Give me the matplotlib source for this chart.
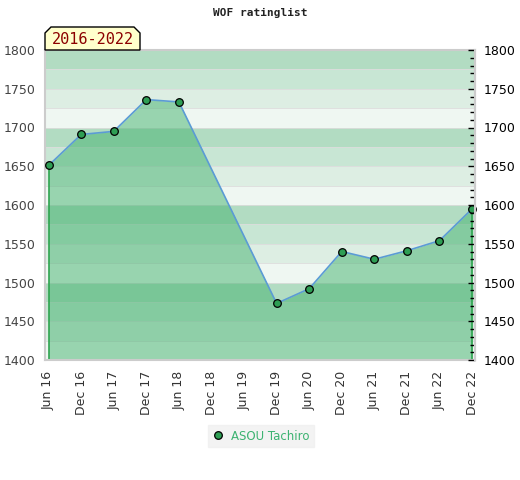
import numpy as np
import matplotlib
matplotlib.use('Agg')
import matplotlib.pyplot as plt
from matplotlib.patches import Polygon
from matplotlib.lines import Line2D

# data (None = no rating that period)
periods = ['Jun 16', 'Dec 16', 'Jun 17', 'Dec 17', 'Jun 18', 'Dec 18', 'Jun 19',
           'Dec 19', 'Jun 20', 'Dec 20', 'Jun 21', 'Dec 21', 'Jun 22', 'Dec 22']
ratings = [1651, 1691, 1695, 1736, 1733, None, None,
           1473, 1492, 1540, 1530, 1541, 1554, 1595]
player = 'ASOU Tachiro'
title = 'WOF ratinglist'
span_label = '2016-2022'
ymin, ymax = 1400, 1800

W, H = 520, 480
fig = plt.figure(figsize=(W / 100, H / 100), dpi=100)
ax = fig.add_axes([45 / W, 1 - 360 / H, 430 / W, 310 / H])

# striped background, 4 shades per 100 points
band_cols = ['#b2dcc2', '#c8e6d4', '#ddeee3', '#eff7f2']
edges = np.arange(ymax, ymin, -25)
for i, top in enumerate(edges):
    ax.axhspan(top - 25, top, color=band_cols[i % 4], lw=0, zorder=0)
    if i > 0:
        ax.axhline(top, color='#dcdcdc', lw=0.6, zorder=0.5)

idx = [i for i, r in enumerate(ratings) if r is not None]
vals = [ratings[i] for i in idx]

ax.fill_between(idx, vals, ymin, color='#42b26e', alpha=0.5, lw=0, zorder=1)
ax.vlines([idx[0], idx[-1]], ymin, [vals[0], vals[-1]], color='#2ea44f', lw=1.2, zorder=2)
ax.plot(idx, vals, color='#5b9bd5', lw=1.2, zorder=3)
ax.plot(idx, vals, 'o', ms=5.5, mfc='#2e9e54', mec='black', mew=0.9, zorder=4, clip_on=False)

ax.set_xlim(-0.11, 13.09)
ax.set_ylim(ymin, ymax)
ax.set_xticks(range(len(periods)))
ax.set_xticklabels(periods, rotation=90, fontsize=9, color='#333333')
ax.set_yticks(np.arange(ymin, ymax + 1, 50))
ax.tick_params(axis='y', length=0, labelsize=9, labelcolor='#444444', pad=7)
ax.tick_params(axis='x', length=0, pad=8)
for s in ['left', 'bottom', 'top', 'right']:
    ax.spines[s].set_color('#cccccc')
    ax.spines[s].set_linewidth(1.5)

ax2 = ax.twinx()
ax2.set_ylim(ymin, ymax)
ax2.set_yticks(np.arange(ymin, ymax + 1, 50))
ax2.set_yticks(np.arange(ymin, ymax + 1, 10), minor=True)
ax2.tick_params(axis='y', which='major', direction='in', length=5, width=1, labelsize=9, labelcolor='black', pad=6)
ax2.tick_params(axis='y', which='minor', direction='in', length=3.5, width=1)
for s in ['left', 'bottom', 'top']:
    ax2.spines[s].set_visible(False)
ax2.spines['right'].set_color('#cccccc')
ax2.spines['right'].set_linewidth(1.5)

fig.text(0.5, 1 - 13 / H, title, ha='center', va='center', fontsize=8,
         family='DejaVu Sans Mono', fontweight='bold', color='#222222')

# tab label with cut corners
pts = [(45, 50), (45, 33), (51, 27), (134, 27), (140, 33), (140, 50)]
tab = Polygon([(x / W, 1 - y / H) for x, y in pts], closed=True, transform=fig.transFigure,
              facecolor='#ffffcc', edgecolor='black', lw=1, zorder=5)
fig.patches.append(tab)
fig.text(92.5 / W, 1 - 40 / H, span_label, ha='center', va='center', fontsize=11,
         family='DejaVu Sans Mono', color='#8b0000', zorder=6)

handle = Line2D([], [], ls='none', marker='o', ms=5.5, mfc='#2e9e54', mec='black', mew=0.9)
leg = fig.legend([handle], [player], loc='center', bbox_to_anchor=(261 / W, 1 - 436 / H),
                 frameon=True, fontsize=8.5, handlelength=1, handletextpad=0.6,
                 borderpad=0.4, fancybox=False)
leg.get_frame().set_facecolor('#f0f0f0')
leg.get_frame().set_edgecolor('#f0f0f0')
for t in leg.get_texts():
    t.set_color('#3cb371')

fig.savefig('out.png', dpi=100)
